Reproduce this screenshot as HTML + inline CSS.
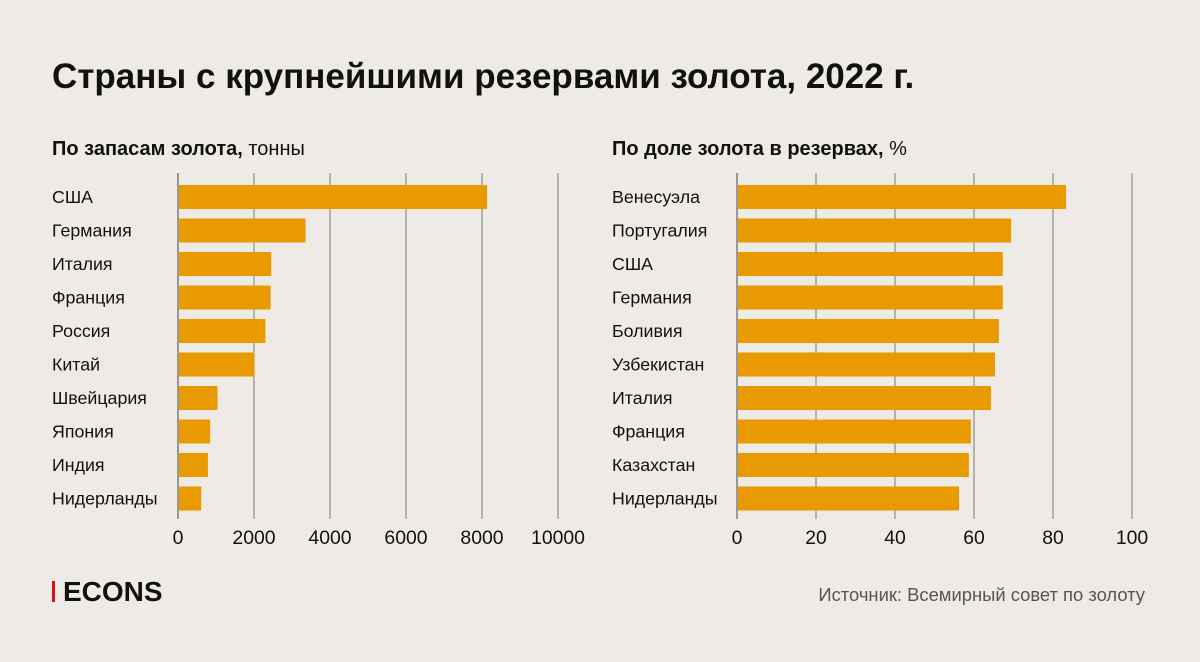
<!DOCTYPE html>
<html><head><meta charset="utf-8"><style>
body{margin:0;background:#eeebe6;}
svg{display:block;font-family:"Liberation Sans","Noto Sans CJK SC",sans-serif;}
</style></head><body>
<svg id="s" width="1200" height="662" viewBox="0 0 1200 662">
<rect width="1200" height="662" fill="#eeebe6"/>
<text x="52" y="88" font-size="35" font-weight="bold" fill="#111">Страны с крупнейшими резервами золота, 2022 г.</text>
<text x="52" y="155" font-size="20" fill="#111"><tspan font-weight="bold">По запасам золота,</tspan> тонны</text>
<text x="612" y="155" font-size="20" fill="#111"><tspan font-weight="bold">По доле золота в резервах,</tspan> %</text>
<g id="left"></g>
<g id="right"></g>
<rect x="52" y="581" width="3" height="21" fill="#d0121b"/>
<text x="63" y="601" font-size="28" font-weight="bold" fill="#111">ECONS</text>
<text x="1145" y="601" font-size="18.4" fill="#555" text-anchor="end">Источник: Всемирный совет по золоту</text>
</svg>
<script>
const leftCats=["США","Германия","Италия","Франция","Россия","Китай","Швейцария","Япония","Индия","Нидерланды"];
const leftVals=[8133,3355,2452,2437,2299,2011,1040,846,787,612];
const leftTicks=[0,2000,4000,6000,8000,10000];
const rightCats=["Венесуэла","Португалия","США","Германия","Боливия","Узбекистан","Италия","Франция","Казахстан","Нидерланды"];
const rightVals=[83.3,69.4,67.3,67.3,66.3,65.3,64.3,59.2,58.7,56.2];
const rightTicks=[0,20,40,60,80,100];
const NS="http://www.w3.org/2000/svg";
function mk(p,t,a){const e=document.createElementNS(NS,t);for(const k in a)e.setAttribute(k,a[k]);p.appendChild(e);return e;}
function draw(gid,cats,vals,ticks,x0,x1,labelX){
  const g=document.getElementById(gid);
  const max=ticks[ticks.length-1];
  const xs=v=>x0+(v/max)*(x1-x0);
  const ys=i=>197+i*33.5;
  ticks.forEach(t=>{
    const l=mk(g,'line',{x1:xs(t),x2:xs(t),y1:173,y2:519,stroke:t===0?'#444':'#7a7a7a','stroke-width':1});
    
    
    const tx=mk(g,'text',{x:xs(t),y:544,'font-size':19.4,fill:'#111','text-anchor':'middle'});
    tx.textContent=t;
    
    
  });
  cats.forEach((c,i)=>{
    const tx=mk(g,'text',{x:labelX,y:ys(i)+6,'font-size':17.8,fill:'#111'});
    tx.textContent=c;
    
    
    const r=mk(g,'rect',{x:xs(0)+1,y:ys(i)-12,width:xs(vals[i])-xs(0)-1,height:24,fill:'#e89a00'});
    
    
  });
}
draw('left',leftCats,leftVals,leftTicks,178,558,52);
draw('right',rightCats,rightVals,rightTicks,737,1132,612);
</script>
</body></html>
